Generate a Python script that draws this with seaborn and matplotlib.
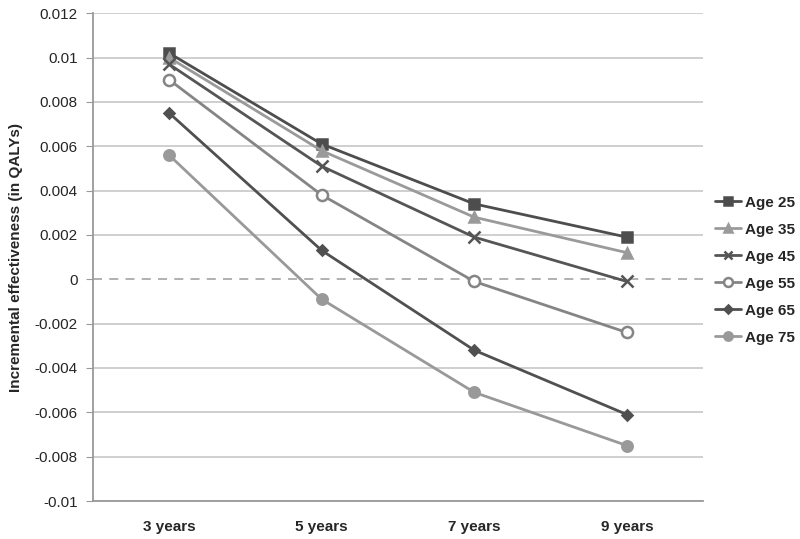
import matplotlib
matplotlib.use("Agg")
import matplotlib.pyplot as plt
import pandas as pd
import seaborn as sns

horizons = ["3 years", "5 years", "7 years", "9 years"]
ages = ["Age 25", "Age 35", "Age 45", "Age 55", "Age 65", "Age 75"]
age25 = [0.0102, 0.0061, 0.0034, 0.0019]
age35 = [0.0100, 0.0058, 0.0028, 0.0012]
age45 = [0.0097, 0.0051, 0.0019, -0.0001]
age55 = [0.0090, 0.0038, -0.0001, -0.0024]
age65 = [0.0075, 0.0013, -0.0032, -0.0061]
age75 = [0.0056, -0.0009, -0.0051, -0.0075]
yticks = [0.012, 0.01, 0.008, 0.006, 0.004, 0.002, 0, -0.002, -0.004, -0.006, -0.008, -0.01]

series = [age25, age35, age45, age55, age65, age75]
colors = ["#4d4d4d", "#9a9a9a", "#555555", "#858585", "#505050", "#999999"]
markers = ["s", "^", "x", "o", "D", "o"]
msizes = [7, 7, 8, 8, 5.5, 7.5]

sns.set_style("white")
plt.rcParams["font.family"] = ["Liberation Sans", "DejaVu Sans"]

fig = plt.figure(figsize=(8, 5.39), dpi=100)
ax = fig.add_axes([0.116, 0.0705, 0.763, 0.905])

for y in yticks:
    if y == 0:
        ax.axhline(y, color="#aaaaaa", lw=1.3, ls=(0, (5, 4)), zorder=0)
    else:
        ax.axhline(y, color="#cccccc", lw=1.3, zorder=0)

for age, vals, c, m, ms in zip(ages, series, colors, markers, msizes):
    df = pd.DataFrame({"horizon": horizons, "value": vals})
    face = "white" if age == "Age 55" else c
    sns.lineplot(data=df, x="horizon", y="value", color=c, marker=m,
                 markersize=ms, markerfacecolor=face, markeredgecolor=c,
                 markeredgewidth=1.8, lw=2.0, label=age, ax=ax, sort=False)

ax.set_xlim(-0.5, 3.5)
ax.set_ylim(-0.01, 0.012)
ax.set_yticks(yticks)
ax.set_yticklabels([f"{t:g}" for t in yticks], fontsize=11)
ax.set_xticks(range(len(horizons)))
ax.set_xticklabels(horizons, fontsize=11, fontweight="bold")
ax.tick_params(axis="y", length=5, color="#999999", direction="out", pad=6, left=True)
ax.tick_params(axis="x", length=0, pad=14)
ax.set_xlabel("")
ax.set_ylabel("Incremental effectiveness (in QALYs)", fontsize=11, fontweight="bold", labelpad=8)
for side in ["top", "right"]:
    ax.spines[side].set_visible(False)
for side in ["left", "bottom"]:
    ax.spines[side].set_color("#999999")
    ax.spines[side].set_linewidth(1.3)

ax.legend(loc="center left", bbox_to_anchor=(1.0, 0.473),
          frameon=False, handlelength=1.7, handletextpad=0.25,
          borderpad=0.2, borderaxespad=0.6, markerscale=0.8,
          labelspacing=0.85, prop={"weight": "bold", "size": 11})

fig.savefig("out.png", dpi=100)
